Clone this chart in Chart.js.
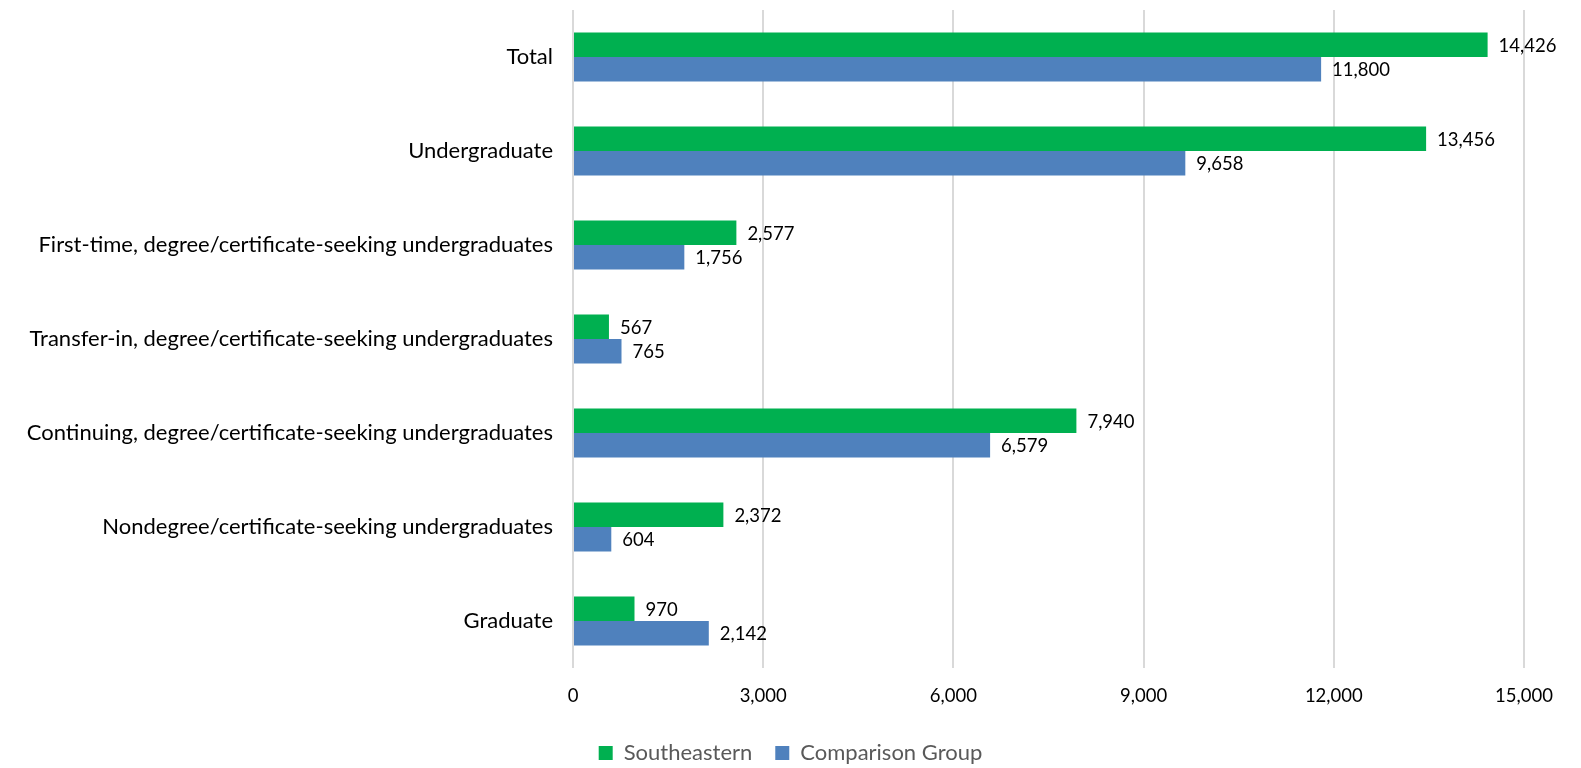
<!DOCTYPE html>
<html>
<head>
<meta charset="utf-8">
<script src="https://cdn.jsdelivr.net/npm/chart.js@4"></script>
<style>
  body { margin: 0; background: #fff; }
  #wrap { width: 1581px; height: 768px; }
</style>
</head>
<body>
<div id="wrap"><canvas id="chart"></canvas></div>
<script>
const categories = [
  'Total',
  'Undergraduate',
  'First-time, degree/certificate-seeking undergraduates',
  'Transfer-in, degree/certificate-seeking undergraduates',
  'Continuing, degree/certificate-seeking undergraduates',
  'Nondegree/certificate-seeking undergraduates',
  'Graduate'
];
const southeastern = [14426, 13456, 2577, 567, 7940, 2372, 970];
const comparison = [11800, 9658, 1756, 765, 6579, 604, 2142];
const xTicks = [0, 3000, 6000, 9000, 12000, 15000];

const fontFamily = 'Lato, "Liberation Sans", sans-serif';

// draw the value at the end of each bar
const valueLabels = {
  id: 'valueLabels',
  afterDatasetsDraw(chart) {
    const ctx = chart.ctx;
    ctx.save();
    ctx.font = '18.5px ' + fontFamily;
    ctx.fillStyle = '#000';
    ctx.textBaseline = 'middle';
    ctx.textAlign = 'left';
    chart.data.datasets.forEach((ds, i) => {
      chart.getDatasetMeta(i).data.forEach((bar, j) => {
        ctx.fillText(ds.data[j].toLocaleString('en-US'), bar.x + 11, bar.y + 1);
      });
    });
    ctx.restore();
  }
};

new Chart(document.getElementById('chart'), {
  type: 'bar',
  data: {
    labels: categories,
    datasets: [
      { label: 'Southeastern', data: southeastern, backgroundColor: '#00B050', barPercentage: 1, categoryPercentage: 0.52 },
      { label: 'Comparison Group', data: comparison, backgroundColor: '#4F81BD', barPercentage: 1, categoryPercentage: 0.52 }
    ]
  },
  options: {
    indexAxis: 'y',
    responsive: true,
    maintainAspectRatio: false,
    animation: false,
    layout: { padding: { top: 10, right: 0, left: 0, bottom: 0 } },
    plugins: {
      legend: {
        position: 'bottom',
        maxHeight: 49,
        labels: {
          font: { family: fontFamily, size: 22 },
          color: '#595959',
          boxWidth: 14,
          boxHeight: 14,
          padding: 23
        }
      },
      tooltip: { enabled: false }
    },
    scales: {
      x: {
        min: 0,
        max: 15000,
        afterBuildTicks(scale) { scale.ticks = xTicks.map(v => ({ value: v })); },
        afterFit(scale) {
          scale.height = 51;
          scale.paddingRight = 57; // room on the right of the plot, legend stays centred on the page
        },
        grid: { color: '#d9d9d9', lineWidth: 2, drawTicks: false },
        border: { display: false },
        ticks: {
          padding: 17,
          color: '#000',
          font: { family: fontFamily, size: 18.5 },
          callback: v => v.toLocaleString('en-US')
        }
      },
      y: {
        afterFit(scale) {
          scale.width = 573;
          scale.paddingTop = 0;
          scale.paddingBottom = 0;
        },
        grid: { display: false },
        border: { display: false },
        ticks: {
          padding: 12,
          color: '#000',
          font: { family: fontFamily, size: 22 }
        }
      }
    }
  },
  plugins: [valueLabels]
});
</script>
</body>
</html>
